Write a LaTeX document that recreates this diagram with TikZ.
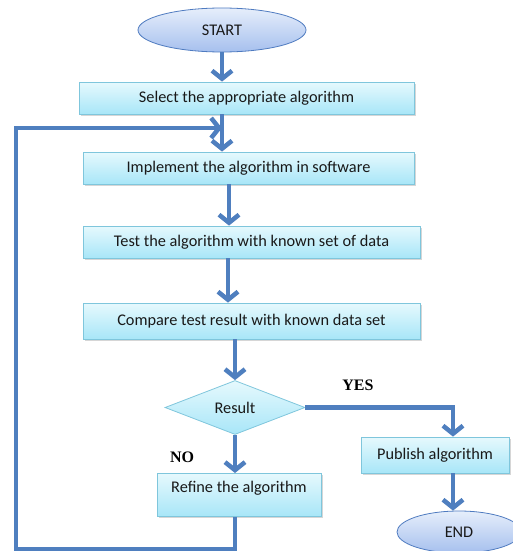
\documentclass[tikz,border=0pt]{standalone}
\usepackage{fontspec}
\setmainfont{Carlito}
\newfontfamily\labfont{Liberation Serif}
\usetikzlibrary{arrows.meta,shapes.geometric,shadows,calc}
\definecolor{arrowblue}{HTML}{4F7FBF}
\definecolor{boxline}{HTML}{7FC6DC}
\definecolor{boxtop}{HTML}{E6F9FD}
\definecolor{boxbot}{HTML}{A8E6F8}
\definecolor{elltop}{HTML}{E6EEFB}
\definecolor{ellbot}{HTML}{A6C0EE}
\definecolor{ellline}{HTML}{4F7BC0}
\begin{document}
\begin{tikzpicture}[x=1pt,y=-1pt,
  every node/.style={font=\fontsize{16.3}{18}\selectfont, text=black!90},
  stepbox/.style={draw=boxline, line width=0.8pt, top color=boxtop, bottom color=boxbot,
    inner sep=0pt, drop shadow={shadow xshift=1.5pt, shadow yshift=-1.5pt, fill=black!40, opacity=0.4}},
  term/.style={ellipse, draw=ellline, line width=0.8pt, top color=elltop, bottom color=ellbot, inner sep=0pt},
  decis/.style={diamond, draw=boxline, line width=0.8pt, top color=boxtop, bottom color=boxbot, inner sep=0pt},
  arr/.style={draw=arrowblue, line width=4.5pt, -{Straight Barb[length=8pt,width=20pt]}},
  lab/.style={font=\labfont\bfseries\fontsize{16}{18}\selectfont, text=black}]
\useasboundingbox (0,0) rectangle (512,551);

\node[term, minimum width=168pt, minimum height=44pt] (start) at (222,30) {START};
\node[stepbox, minimum width=335pt, minimum height=32pt] (b1) at (246.5,98) {Select the appropriate algorithm};
\node[stepbox, minimum width=331pt, minimum height=32pt] (b2) at (248.5,168) {Implement the algorithm in software};
\node[stepbox, minimum width=337pt, minimum height=32pt] (b3) at (251.5,242) {Test the algorithm with known set of data};
\node[stepbox, minimum width=337pt, minimum height=36pt] (b4) at (251.5,321) {Compare test result with  known data set};
\node[decis, minimum width=140pt, minimum height=54pt] (dia) at (235,407.5) {Result};
\node[stepbox, minimum width=164pt, minimum height=43pt, anchor=north, text height=19pt, text depth=24pt] (refine) at (239,473) {Refine the algorithm};
\node[stepbox, minimum width=148pt, minimum height=36pt] (pub) at (435,455) {Publish algorithm};
\node[term, minimum width=124pt, minimum height=42pt] (end) at (459,532) {END};

\node[lab] (yes) at (358,385) {YES};
\node[lab] (no) at (182,457) {NO};

\coordinate (join) at (222,128);
\coordinate (corner) at (453,407.5);

\draw[arr] (start.south) -- (b1.north -| start.south);
\draw[arr] (b1.south -| join) -- (b2.north -| join);
\draw[arr] ([xshift=-19.5pt]b2.south) -- ([xshift=-19.5pt]b2.south |- b3.north);
\draw[arr] ([xshift=-23.5pt]b3.south) -- ([xshift=-23.5pt]b3.south |- b4.north);
\draw[arr] (b4.south -| dia.north) -- (dia.north);
\draw[arr] (dia.south) -- (refine.north -| dia.south);
\draw[arr] (dia.east) -- (corner) -- (pub.north -| corner);
\draw[arr] (pub.south -| corner) -- (end.north -| corner);
\draw[arr] (refine.south -| dia.south) -- ++(0,32) -| (16,128) -- (join);
\end{tikzpicture}
\end{document}
